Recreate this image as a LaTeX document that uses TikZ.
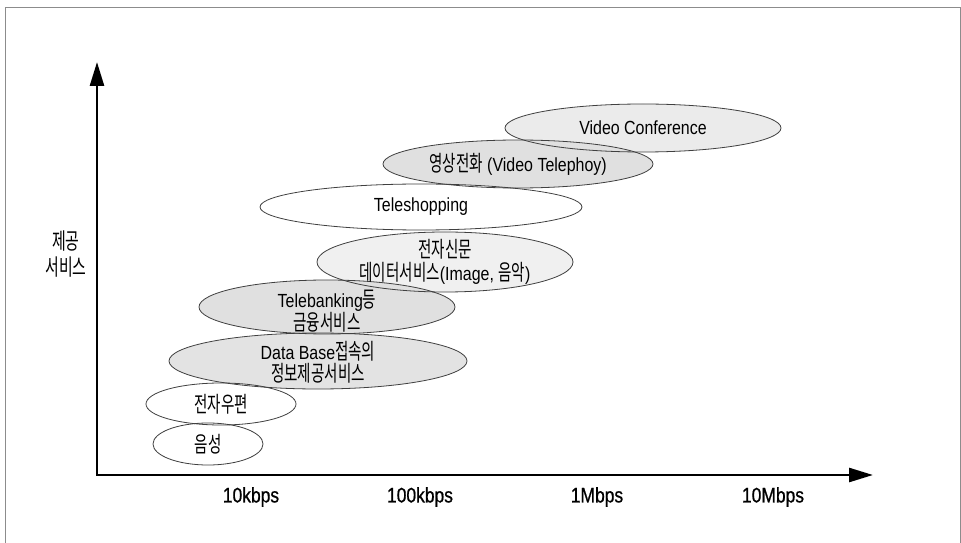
\documentclass[tikz,border=0pt]{standalone}
\usepackage{fontspec}
\setmainfont{Liberation Sans}[FakeStretch=0.84]
\newfontfamily\kofont{Noto Sans CJK KR}[FakeStretch=0.66,Scale=1.16]
\newfontfamily\tickfont{Liberation Sans}[FakeStretch=0.83,FakeBold=0.8]
\newcommand\ko[1]{{\kofont #1}}
\usetikzlibrary{shapes.geometric,arrows.meta}
\tikzset{
  ellbg/.style={ellipse,inner sep=0pt,draw=none},
  ell/.style={ellipse,inner sep=0pt,draw=black!75,line width=0.8bp,align=center,
    text=black,font=\fontsize{19bp}{22bp}\selectfont},
  txt/.style={inner sep=0pt,align=center,text=black,font=\fontsize{19bp}{22bp}\selectfont},
  tick/.style={font=\tickfont\fontsize{21bp}{24bp}\selectfont,text=black},
  axis/.style={line width=2.6bp,black},
  framecol/.style={line width=1bp,black!45},
  ylab/.style={align=center,font=\fontsize{19.5bp}{26bp}\selectfont,text=black}
}
\begin{document}
\begin{tikzpicture}[x=1bp,y=-1bp]
\useasboundingbox (0,0) rectangle (961,543);
\fill[white] (0,0) rectangle (961,543);
% frame
\draw[framecol] (5,543) -- (5,8) -- (960,8) -- (960,543);
% fills
\node[ellbg,fill=black!8,minimum width=276bp,minimum height=48bp] (vcbg) at (643,128) {};
\node[ellbg,fill=black!12,minimum width=270bp,minimum height=48bp] (vtbg) at (518,164) {};
\node[ellbg,fill=white,minimum width=322bp,minimum height=46bp] (tsbg) at (421,207) {};
\node[ellbg,fill=black!6,minimum width=256bp,minimum height=60bp] (npbg) at (445,262) {};
\node[ellbg,fill=black!12,minimum width=256bp,minimum height=54bp] (tbbg) at (327,307) {};
\node[ellbg,fill=black!11,minimum width=298bp,minimum height=56bp] (dbbg) at (318,361) {};
\node[ellbg,fill=white,minimum width=150bp,minimum height=42bp] (embg) at (221,404) {};
\node[ellbg,fill=white,minimum width=110bp,minimum height=42bp] (vobg) at (208,444) {};
% outlines
\node[ell,minimum width=276bp,minimum height=48bp] (vc) at (643,128) {};
\node[ell,minimum width=270bp,minimum height=48bp] (vt) at (518,164) {};
\node[ell,minimum width=322bp,minimum height=46bp] (ts) at (421,207) {};
\node[ell,minimum width=256bp,minimum height=60bp] (np) at (445,262) {};
\node[ell,minimum width=256bp,minimum height=54bp] (tb) at (327,307) {};
\node[ell,minimum width=298bp,minimum height=56bp] (db) at (318,361) {};
\node[ell,minimum width=150bp,minimum height=42bp] (em) at (221,404) {};
\node[ell,minimum width=110bp,minimum height=42bp] (vo) at (208,444) {};
% texts
\node[txt] (vct) at (643,128) {Video Conference};
\node[txt] (vtt) at (518,164) {\ko{영상전화} (Video Telephoy)};
\node[txt] (tst) at (421,207) {Teleshopping};
\node[txt] (npt) at (445,262) {\ko{전자신문}\\[1bp]\ko{데이터서비스}(Image, \ko{음악})};
\node[txt] (tbt) at (327,311) {Telebanking\ko{등}\\\ko{금융서비스}};
\node[txt] (dbt) at (318,362) {Data Base\ko{접속의}\\\ko{정보제공서비스}};
\node[txt] (emt) at (221,404) {\ko{전자우편}};
\node[txt] (vot) at (208,444) {\ko{음성}};
% axes
\coordinate (origin) at (97,475);
\coordinate (ytip) at (97,62);
\coordinate (xtip) at (873,475);
\draw[axis,{Triangle[length=24bp,width=14bp]}-{Triangle[length=24bp,width=14bp]}] (ytip) -- (origin) -- (xtip);
% labels
\node[ylab] (yl) at (66,254) {\ko{제공}\\\ko{서비스}};
\node[tick] (t1) at (251,497) {10kbps};
\node[tick] (t2) at (420,497) {100kbps};
\node[tick] (t3) at (597,497) {1Mbps};
\node[tick] (t4) at (773,497) {10Mbps};
\end{tikzpicture}
\end{document}
